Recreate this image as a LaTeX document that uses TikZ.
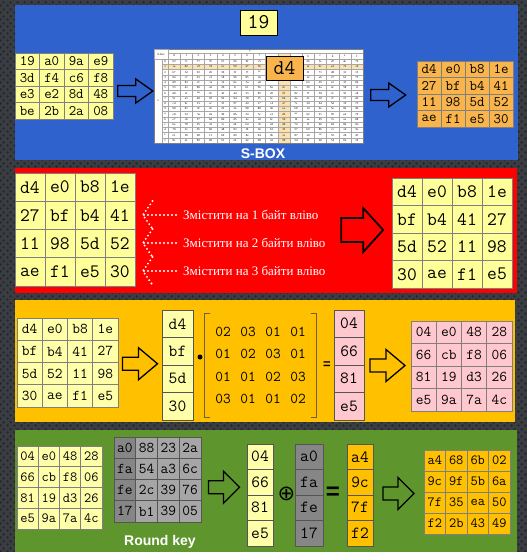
\documentclass[tikz,border=0pt]{standalone}
\usepackage{fontspec}
\setmainfont{Liberation Serif}
\setsansfont{Liberation Sans}
\newfontfamily\symbolfont{DejaVu Sans}
\usepackage{xcolor}
\definecolor{slatebg}{HTML}{3A3D42}
\definecolor{slatedot}{HTML}{26292D}
\definecolor{subblue}{HTML}{2F62CC}
\definecolor{shiftred}{HTML}{FF0000}
\definecolor{mixamber}{HTML}{FFC000}
\definecolor{keygreen}{HTML}{5E952D}
\definecolor{cellyellow}{HTML}{FFFF99}
\definecolor{paleyellow}{HTML}{FFFFAA}
\definecolor{sboxorange}{HTML}{F9B54B}
\definecolor{mixpink}{HTML}{FFC7CE}
\definecolor{keygray}{HTML}{A6A6A6}
\definecolor{keydark}{HTML}{868686}
\definecolor{gridgray}{HTML}{7F7F7F}
\definecolor{vecgray}{HTML}{555555}
\definecolor{hilite}{HTML}{FCE2B0}
\definecolor{bracketbrown}{HTML}{6E5E45}
\usepackage{tikz}
\usetikzlibrary{matrix,calc,patterns.meta}

\tikzdeclarepattern{
  name=slatedots,
  type=uncolored,
  bottom left={(0pt,0pt)},
  top right={(7pt,7pt)},
  tile size={(7pt,7pt)},
  code={
    \fill (1.75pt,1.75pt) circle (1.6pt);
    \fill (5.25pt,5.25pt) circle (1.6pt);
  }
}

\tikzset{
  cellgrid/.style={matrix of nodes, column sep=-0.6pt, row sep=-0.6pt,
    nodes={draw=gridgray, line width=0.6pt, inner sep=0pt, anchor=center}},
  cellsize/.style 2 args={nodes={minimum width=#1, minimum height=#2}},
  mono/.style={font=\fontsize{#1}{#1}\selectfont\ttfamily},
  sboxrule/.style={draw=gray!70, line width=0.3pt},
  sboxtxt/.style={font=\fontsize{3}{3}\selectfont, inner sep=0pt},
  stagelabel/.style={white, font=\sffamily\bfseries\fontsize{14}{14}\selectfont},
  shifttxt/.style={white, anchor=west, inner sep=0pt, font=\fontsize{13}{13}\selectfont},
  dotline/.style={white, line width=2.1pt, line cap=round, dash pattern=on 0pt off 4pt},
  bracketline/.style={draw=bracketbrown, line width=0.9pt},
  arrowline/.style={draw=black, line width=1.3pt, line join=miter},
  pics/blockarrow/.style args={#1/#2/#3/#4}{code={
    \draw[arrowline] (-#1/2,-#3) -- (#1/2-#4,-#3) -- (#1/2-#4,-#2) -- (#1/2,0)
      -- (#1/2-#4,#2) -- (#1/2-#4,#3) -- (-#1/2,#3) -- cycle;
  }}
}

\begin{document}
\begin{tikzpicture}[x=1pt,y=-1pt]
  \useasboundingbox (0,0) rectangle (527,552);
  % Slate backdrop
  \fill[slatebg] (0,0) rectangle (527,552);
  \fill[pattern=slatedots, pattern color=slatedot] (0,0) rectangle (527,552);
  % Stage panels
  \fill[subblue] (15,5) rectangle (518,160);
  \fill[shiftred] (15,168) rectangle (517,293);
  \fill[mixamber] (15,300) rectangle (515,422);
  \fill[keygreen] (15,430) rectangle (517,552);

  % ---- SubBytes ----
  \node[draw=black, line width=0.9pt, fill=cellyellow, minimum width=37pt,
    minimum height=25pt, inner sep=0pt, mono=21] (byte19) at (258.5,22.5) {19};
  \matrix (inA) [cellgrid, cellsize={24.5pt}{16.5pt}, nodes={fill=cellyellow, mono=14.5}] at (64,86) {
    19 & a0 & 9a & e9\\
    3d & f4 & c6 & f8\\
    e3 & e2 & 8d & 48\\
    be & 2b & 2a & 08\\
  };
  % S-box lookup table
  \node[draw=gridgray, fill=white, minimum width=209pt, minimum height=94pt, inner sep=0pt] (sbox) at (258.5,96) {};
  \fill[hilite] (162,64.25) rectangle (363,69.5);
  \fill[hilite] (277.7,53) rectangle (289.9,143);
  \draw[sboxrule] (154,49) rectangle (168,59);
  \draw[sboxrule] (168,53) -- (363,53);
  \foreach \k in {0,...,15}
    \draw[sboxrule] (162,59+\k*5.25) -- (363,59+\k*5.25);
  \draw[sboxrule] (162,59) -- (162,143);
  \foreach \k in {0,...,15}
    \draw[sboxrule] (168+\k*12.19,53) -- (168+\k*12.19,143);
  \node[sboxtxt] (boxtag) at (161,54) {S-box};
  \node[sboxtxt] (xtag) at (158,101) {x};
  \node[sboxtxt] (ytag) at (250,51) {y};
  \foreach \h [count=\j from 0] in {0,1,2,3,4,5,6,7,8,9,a,b,c,d,e,f} {
    \pgfmathtruncatemacro\hide{(\j>7)&&(\j<11)}
    \ifnum\hide=0
      \node[sboxtxt] (col-\j) at (174.1+\j*12.19,56) {\h};
    \fi
    \node[sboxtxt] (row-\j) at (165,61.6+\j*5.25) {\h};
  }
  \foreach \vals [count=\i from 0] in {
    {63,7c,77,7b,f2,6b,6f,c5,30,01,67,2b,fe,d7,ab,76},
    {ca,82,c9,7d,fa,59,47,f0,ad,d4,a2,af,9c,a4,72,c0},
    {b7,fd,93,26,36,3f,f7,cc,34,a5,e5,f1,71,d8,31,15},
    {04,c7,23,c3,18,96,05,9a,07,12,80,e2,eb,27,b2,75},
    {09,83,2c,1a,1b,6e,5a,a0,52,3b,d6,b3,29,e3,2f,84},
    {53,d1,00,ed,20,fc,b1,5b,6a,cb,be,39,4a,4c,58,cf},
    {d0,ef,aa,fb,43,4d,33,85,45,f9,02,7f,50,3c,9f,a8},
    {51,a3,40,8f,92,9d,38,f5,bc,b6,da,21,10,ff,f3,d2},
    {cd,0c,13,ec,5f,97,44,17,c4,a7,7e,3d,64,5d,19,73},
    {60,81,4f,dc,22,2a,90,88,46,ee,b8,14,de,5e,0b,db},
    {e0,32,3a,0a,49,06,24,5c,c2,d3,ac,62,91,95,e4,79},
    {e7,c8,37,6d,8d,d5,4e,a9,6c,56,f4,ea,65,7a,ae,08},
    {ba,78,25,2e,1c,a6,b4,c6,e8,dd,74,1f,4b,bd,8b,8a},
    {70,3e,b5,66,48,03,f6,0e,61,35,57,b9,86,c1,1d,9e},
    {e1,f8,98,11,69,d9,8e,94,9b,1e,87,e9,ce,55,28,df},
    {8c,a1,89,0d,bf,e6,42,68,41,99,2d,0f,b0,54,bb,16}} {
    \foreach \v [count=\j from 0] in \vals {
      % cells under the d4 call-out stay blank
      \pgfmathtruncatemacro\hide{(\i<5)&&(\j>7)&&(\j<11)}
      \ifnum\hide=0
        \node[sboxtxt] (s-\i-\j) at (174.1+\j*12.19,61.6+\i*5.25) {\v};
      \fi
    }
  }
  \node[draw=black, line width=0.9pt, fill=sboxorange, minimum width=37pt,
    minimum height=24pt, inner sep=0pt, mono=21] (d4box) at (284.5,68) {d4};
  \node[stagelabel] (sboxlabel) at (263,154) {S-BOX};
  \matrix (outA) [cellgrid, cellsize={24pt}{16.5pt}, nodes={fill=sboxorange, mono=14.5}] at (465,94) {
    d4 & e0 & b8 & 1e\\
    27 & bf & b4 & 41\\
    11 & 98 & 5d & 52\\
    ae & f1 & e5 & 30\\
  };
  \path ($(inA.east)!0.5!(sbox.west)$) pic {blockarrow=35/12/5.5/17};
  \path ($(sbox.east)!0.5!(outA.west)$) pic {blockarrow=35/12/5.5/17};

  % ---- ShiftRows ----
  \matrix (rowsIn) [cellgrid, cellsize={30pt}{28.25pt}, nodes={fill=cellyellow, mono=19}] at (75,229.5) {
    d4 & e0 & b8 & 1e\\
    27 & bf & b4 & 41\\
    11 & 98 & 5d & 52\\
    ae & f1 & e5 & 30\\
  };
  \node[shifttxt] (shift1) at (183,215) {Змістити на 1 байт вліво};
  \node[shifttxt] (shift2) at (183,243) {Змістити на 2 байти вліво};
  \node[shifttxt] (shift3) at (183,271) {Змістити на 3 байти вліво};
  \foreach \n/\y in {1/215,2/243,3/271} {
    \coordinate (tip\n) at (143,\y);
    \draw[dotline] ($(shift\n.west)+(-7,0)$) -- (tip\n);
    \draw[dotline] ($(tip\n)+(9.5,-14)$) -- (tip\n) -- ($(tip\n)+(9.5,14)$);
  }
  \matrix (rowsOut) [cellgrid, cellsize={30pt}{27.5pt}, nodes={fill=cellyellow, mono=19}] at (452,233) {
    d4 & e0 & b8 & 1e\\
    bf & b4 & 41 & 27\\
    5d & 52 & 11 & 98\\
    30 & ae & f1 & e5\\
  };
  \path ($(rowsOut.west)+(-26,-3)$) pic[arrowline/.append style={line width=1.8pt}] {blockarrow=42/22/12/20};

  % ---- MixColumns ----
  \matrix (mixIn) [cellgrid, cellsize={25.25pt}{22.25pt}, nodes={fill=paleyellow, mono=15}] at (67.5,362.5) {
    d4 & e0 & b8 & 1e\\
    bf & b4 & 41 & 27\\
    5d & 52 & 11 & 98\\
    30 & ae & f1 & e5\\
  };
  \matrix (colIn) [cellgrid, cellsize={31pt}{27.5pt}, nodes={fill=paleyellow, draw=vecgray, mono=17}] at (177.5,365) {
    d4\\ bf\\ 5d\\ 30\\
  };
  \node[circle, fill=black, inner sep=0pt, minimum size=5pt] (mulop) at (200,357) {};
  \matrix (coef) [matrix of nodes, nodes={minimum width=25pt, minimum height=22.3pt,
    inner sep=0pt, anchor=center, mono=15}] at (260.5,365.5) {
    02 & 03 & 01 & 01\\
    01 & 02 & 03 & 01\\
    01 & 01 & 02 & 03\\
    03 & 01 & 01 & 02\\
  };
  \draw[bracketline] ($(coef.north west)+(3.5,-4)$) -- ++(-6,0) |- ($(coef.south west)+(3.5,4)$);
  \draw[bracketline] ($(coef.north east)+(-3.5,-4)$) -- ++(6,0) |- ($(coef.south east)+(-3.5,4)$);
  \node[font=\sffamily\bfseries\fontsize{13}{13}\selectfont, inner sep=0pt] (eqA) at (327,365) {=};
  \matrix (colOut) [cellgrid, cellsize={30pt}{27.5pt}, nodes={fill=mixpink, draw=vecgray, mono=17}] at (349,365) {
    04\\ 66\\ 81\\ e5\\
  };
  \matrix (mixOut) [cellgrid, cellsize={25.25pt}{22.5pt}, nodes={fill=mixpink, mono=15}] at (461.5,366) {
    04 & e0 & 48 & 28\\
    66 & cb & f8 & 06\\
    81 & 19 & d3 & 26\\
    e5 & 9a & 7a & 4c\\
  };
  \path ($(mixIn.east)!0.5!(colIn.west)$) pic {blockarrow=35/16/6.5/19};
  \path ($(colOut.east)!0.5!(mixOut.west)$) pic {blockarrow=35/16/6.5/19};

  % ---- AddRoundKey ----
  \matrix (keyIn) [cellgrid, cellsize={21.25pt}{20.75pt}, nodes={fill=paleyellow, mono=14}] at (59.5,487.5) {
    04 & e0 & 48 & 28\\
    66 & cb & f8 & 06\\
    81 & 19 & d3 & 26\\
    e5 & 9a & 7a & 4c\\
  };
  \matrix (rkey) [cellgrid, cellsize={21.75pt}{21.25pt}, nodes={fill=keygray, draw=vecgray, mono=15},
    column 1/.style={nodes={fill=keydark}}] at (157.5,479.5) {
    a0 & 88 & 23 & 2a\\
    fa & 54 & a3 & 6c\\
    fe & 2c & 39 & 76\\
    17 & b1 & 39 & 05\\
  };
  \node[stagelabel] (rkeylabel) at (160,542) {Round key};
  \matrix (colA) [cellgrid, cellsize={26pt}{25.5pt}, nodes={fill=paleyellow, draw=vecgray, mono=17}] at (260,495) {
    04\\ 66\\ 81\\ e5\\
  };
  \node[font=\symbolfont\fontsize{21}{21}\selectfont, inner sep=0pt] (xorop) at (286.5,494) {⊕};
  \matrix (colK) [cellgrid, cellsize={28pt}{25.5pt}, nodes={fill=keydark, draw=vecgray, mono=17}] at (309,495) {
    a0\\ fa\\ fe\\ 17\\
  };
  \node[font=\sffamily\bfseries\fontsize{24}{24}\selectfont, inner sep=0pt] (eqB) at (333,493) {=};
  \matrix (colR) [cellgrid, cellsize={26pt}{25.5pt}, nodes={fill=mixamber, draw=vecgray, mono=17}] at (360,495) {
    a4\\ 9c\\ 7f\\ f2\\
  };
  \matrix (keyOut) [cellgrid, cellsize={21.5pt}{21pt}, nodes={fill=mixamber, mono=14}] at (467,492) {
    a4 & 68 & 6b & 02\\
    9c & 9f & 5b & 6a\\
    7f & 35 & ea & 50\\
    f2 & 2b & 43 & 49\\
  };
  \path ($(rkey.east)!0.5!(colA.west)$) pic {blockarrow=31/16/6.5/16};
  \path ($(colR.east)!0.5!(keyOut.west)$) pic {blockarrow=31/16/6.5/16};
\end{tikzpicture}
\end{document}
